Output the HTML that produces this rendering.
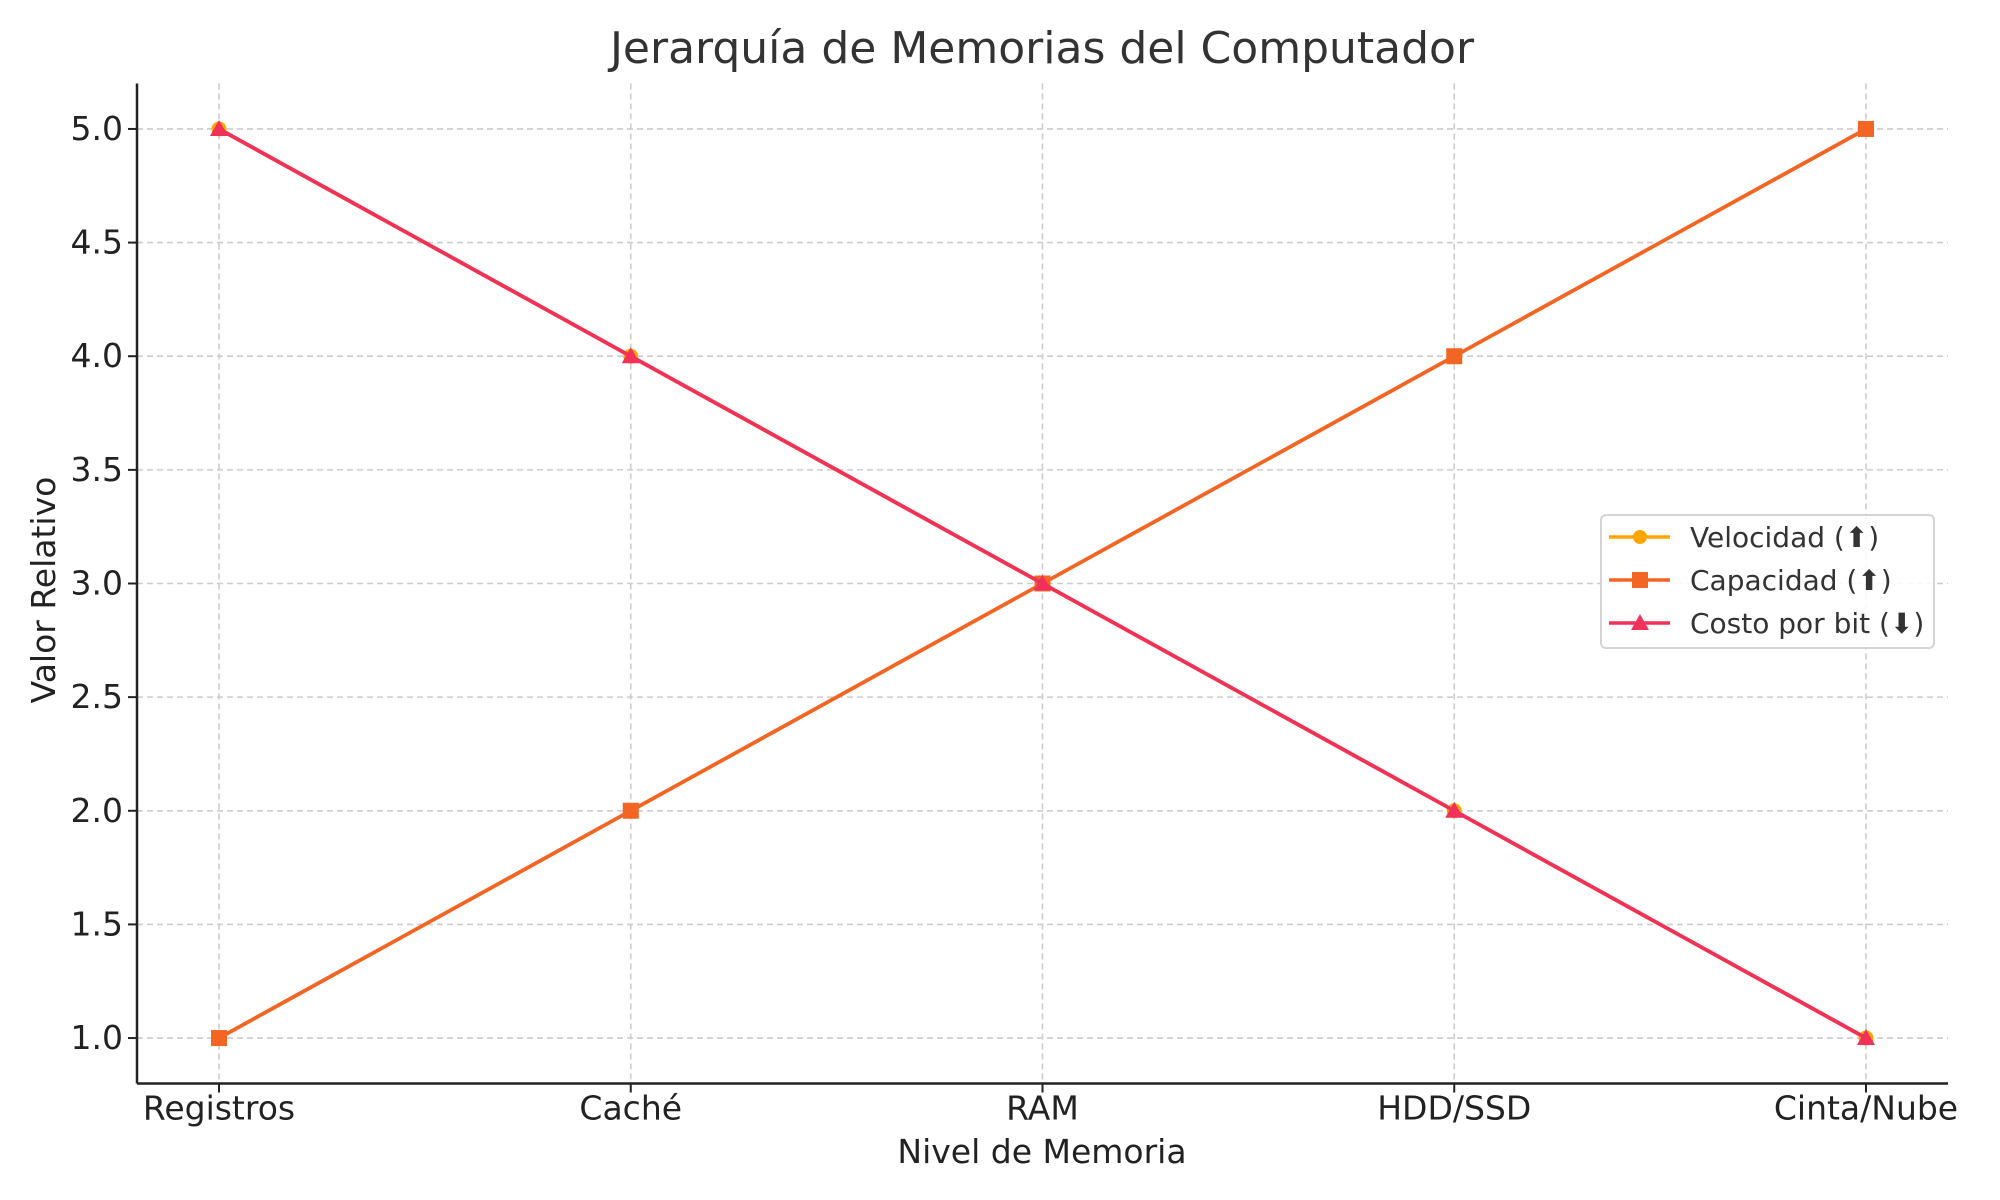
<!DOCTYPE html>
<html><head><meta charset="utf-8"><style>
html,body{margin:0;padding:0;background:#fff}
svg{display:block;font-family:"DejaVu Sans","Liberation Sans",sans-serif}
</style></head><body>
<svg id="chart" width="2000" height="1200" viewBox="0 0 2000 1200" xmlns="http://www.w3.org/2000/svg">
<rect width="2000" height="1200" fill="#fff"/>
<text x="1042" y="63" font-size="44" text-anchor="middle" fill="#333">Jerarquía de Memorias del Computador</text>
<g id="grid"></g>
<g id="series"></g>
<g id="axes"></g>
<text x="1042" y="1163" font-size="33" text-anchor="middle" fill="#222">Nivel de Memoria</text>
<text x="0" y="0" font-size="33" text-anchor="middle" fill="#222" transform="translate(55,590) rotate(-90)">Valor Relativo</text>
<g>
<rect x="1601" y="515" width="333" height="133" rx="5" fill="#fff" fill-opacity="0.85" stroke="#d4d4d4" stroke-width="2"/>
<g>
<line x1="1609" y1="537" x2="1670" y2="537" stroke="#FFA500" stroke-width="3.5"/>
<circle cx="1640" cy="537" r="7" fill="#FFA500"/>
<text x="1690" y="547" font-size="28" fill="#333">Velocidad (⬆)</text></g>
<g>
<line x1="1609" y1="580" x2="1670" y2="580" stroke="#F26522" stroke-width="3.5"/>
<rect x="1632" y="572" width="16" height="16" fill="#F26522"/>
<text x="1690" y="590" font-size="28" fill="#333">Capacidad (⬆)</text></g>
<g>
<line x1="1609" y1="623" x2="1670" y2="623" stroke="#F0325A" stroke-width="3.5"/>
<polygon points="1640,614 1649,630 1631,630" fill="#F0325A"/>
<text x="1690" y="633" font-size="28" fill="#333">Costo por bit (⬇)</text></g>
</g>
</svg>
<script>
const categories = ["Registros","Caché","RAM","HDD/SSD","Cinta/Nube"];
const velocidad = [5,4,3,2,1];
const capacidad = [1,2,3,4,5];
const costo = [5,4,3,2,1];
const yTicks = [1.0,1.5,2.0,2.5,3.0,3.5,4.0,4.5,5.0];
const yTickLabels = ["1.0","1.5","2.0","2.5","3.0","3.5","4.0","4.5","5.0"];

const NS="http://www.w3.org/2000/svg";
const L=137,R=1948,T=83.5,B=1083.5;
const x0=219,x1=1866;
const yMin=0.8,yMax=5.2;
function xs(i){return x0+(x1-x0)*i/(categories.length-1);}
function ys(v){return B-(v-yMin)/(yMax-yMin)*(B-T);}
function mk(tag,attrs,parent){const e=document.createElementNS(NS,tag);for(const k in attrs)e.setAttribute(k,attrs[k]);parent.appendChild(e);return e;}
const grid=document.getElementById('grid'),axes=document.getElementById('axes'),ser=document.getElementById('series');
categories.forEach((c,i)=>{
  const g=mk('line',{x1:xs(i),x2:xs(i),y1:T,y2:B,stroke:'#cccccc','stroke-width':1.6,'stroke-dasharray':'6,4'},grid);
  
  
  mk('line',{x1:xs(i),x2:xs(i),y1:B,y2:B+9,stroke:'#222','stroke-width':2},axes);
  const t=mk('text',{x:xs(i),y:B+36,'font-size':33,'text-anchor':'middle',fill:'#222'},axes);
  t.textContent=c;
  
  
});
yTicks.forEach((v,i)=>{
  const g=mk('line',{x1:L,x2:R,y1:ys(v),y2:ys(v),stroke:'#cccccc','stroke-width':1.6,'stroke-dasharray':'6,4'},grid);
  
  
  mk('line',{x1:L-9,x2:L,y1:ys(v),y2:ys(v),stroke:'#222','stroke-width':2},axes);
  const t=mk('text',{x:L-14,y:ys(v)+11,'font-size':33,'text-anchor':'end',fill:'#222'},axes);
  t.textContent=yTickLabels[i];
  
  
});
const ya=mk('line',{x1:L,x2:L,y1:T,y2:B,stroke:'#222','stroke-width':2.5},axes);


const xa=mk('line',{x1:L,x2:R,y1:B,y2:B,stroke:'#222','stroke-width':2.5},axes);


function drawSeries(vals,color,marker,name){
  const g=mk('g',{},ser);
  
  
  mk('polyline',{points:vals.map((v,i)=>xs(i)+','+ys(v)).join(' '),fill:'none',stroke:color,'stroke-width':3.8,'stroke-linejoin':'round'},g);
  vals.forEach((v,i)=>{
    const cx=xs(i),cy=ys(v);let m;
    if(marker==='o')m=mk('circle',{cx:cx,cy:cy,r:7.5,fill:color},g);
    else if(marker==='s')m=mk('rect',{x:cx-8,y:cy-8,width:16,height:16,fill:color},g);
    else m=mk('polygon',{points:`${cx},${cy-9} ${cx+9},${cy+7} ${cx-9},${cy+7}`,fill:color},g);
    
    
  });
}
drawSeries(velocidad,'#FFA500','o','velocidad-series');
drawSeries(capacidad,'#F26522','s','capacidad-series');
drawSeries(costo,'#F0325A','^','costo-series');
</script>
</body></html>
